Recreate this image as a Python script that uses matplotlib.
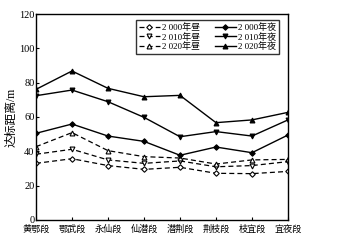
import matplotlib
matplotlib.use("Agg")
import matplotlib.pyplot as plt

plt.rcParams['font.family'] = ['Liberation Serif', 'Noto Sans CJK SC']

# categories (river sections)
sections = ["黄鄂段", "鄂武段", "永仙段", "仙潜段", "潜荆段", "荆枝段", "枝宜段", "宜夜段"]

# distance to standard, m
day_2000 = [33, 35.7, 31.7, 29.5, 30.7, 27.2, 27, 28.3]
day_2010 = [38.3, 41.2, 35, 33, 34.4, 31, 31.7, 34]
day_2020 = [42.7, 50.9, 40.4, 36.9, 36.1, 32.6, 35, 35.3]
night_2000 = [50.5, 55.9, 48.9, 45.8, 37.7, 42.5, 39.2, 49.5]
night_2010 = [72.4, 75.7, 68.9, 59.8, 48.5, 51.5, 48.9, 58.3]
night_2020 = [76.1, 86.8, 76.7, 71.8, 72.6, 56.7, 58.3, 62.7]

y_ticks = [0, 20, 40, 60, 80, 100, 120]

fig = plt.figure(figsize=(3.38, 2.44), dpi=100)
ax = fig.add_axes([0.1065, 0.0984, 0.7455, 0.8442])

x = list(range(len(sections)))
kw_day = dict(color="black", lw=0.9, ls=(0, (4, 2.5)), ms=3.5, mfc="white", mew=0.8)
kw_night = dict(color="black", lw=1.0, ls="-", ms=3.5, mew=0.8)

h1, = ax.plot(x, day_2000, marker="D", label="2 000年昼", **dict(kw_day, ms=2.8))
h2, = ax.plot(x, day_2010, marker="v", label="2 010年昼", **kw_day)
h3, = ax.plot(x, day_2020, marker="^", label="2 020年昼", **kw_day)
h4, = ax.plot(x, night_2000, marker="D", label="2 000年夜", **dict(kw_night, ms=2.8))
h5, = ax.plot(x, night_2010, marker="v", label="2 010年夜", **kw_night)
h6, = ax.plot(x, night_2020, marker="^", label="2 020年夜", **kw_night)

ax.set_xlim(0, 7)
ax.set_ylim(0, 120)
ax.set_yticks(y_ticks)
ax.set_xticks(x)
ax.set_xticklabels(sections, fontsize=6.6)
ax.tick_params(axis="y", labelsize=7.5, direction="in", length=2, pad=1)
ax.tick_params(axis="x", direction="in", length=2, pad=3.5)
ax.set_ylabel("达标距离/m", fontsize=8.5, labelpad=1)
for s in ax.spines.values():
    s.set_linewidth(1.0)

leg = ax.legend(handles=[h1, h2, h3, h4, h5, h6], ncol=2, fontsize=6.5,
                loc="upper right", bbox_to_anchor=(0.965, 0.97),
                frameon=True, fancybox=False, edgecolor="black",
                handlelength=2.3, handletextpad=0.3, columnspacing=1.6,
                labelspacing=0.1, borderpad=0.3, borderaxespad=0.0)
leg.get_frame().set_linewidth(1.0)

fig.savefig("out.png", dpi=100)
